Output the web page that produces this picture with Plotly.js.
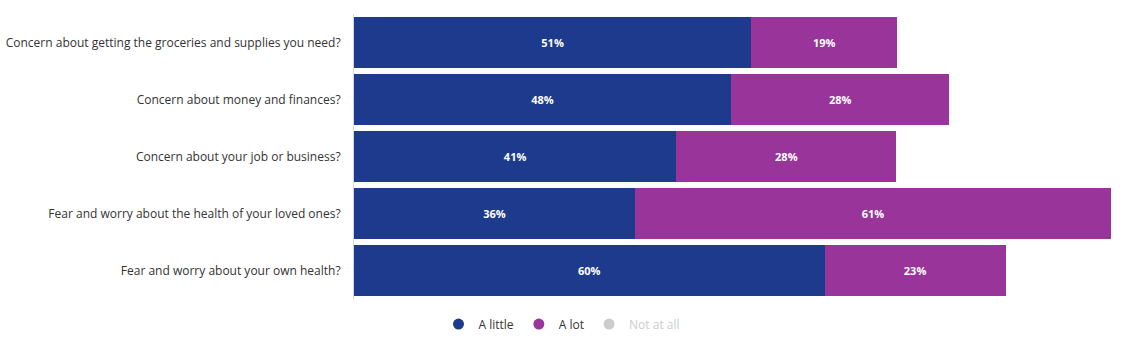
<!DOCTYPE html>
<html><head><meta charset="utf-8">
<script src="https://cdn.plot.ly/plotly-3.0.1.min.js"></script>
<style>html,body{margin:0;padding:0;background:#fff}#chart{width:1124px;height:350px}</style>
</head><body><div id="chart"></div>
<script>
const categories = [
  "Concern about getting the groceries and supplies you need?",
  "Concern about money and finances?",
  "Concern about your job or business?",
  "Fear and worry about the health of your loved ones?",
  "Fear and worry about your own health?"
];
const aLittle = [50.9, 48.3, 41.3, 36.0, 60.3];
const aLot = [18.7, 28.0, 28.2, 61.0, 23.2];
const notAtAll = [30.4, 23.7, 30.5, 3.0, 16.5];
const seriesNames = ["A little", "A lot", "Not at all"];
const seriesColors = ["#1e3a8c", "#99349b", "#cccccc"];

function barTrace(vals, name, color, visible) {
  return {
    type: 'bar', orientation: 'h', y: categories, x: vals, name: name,
    marker: {color: color, line: {width: 0}},
    text: vals.map(v => '<b>' + Math.round(v) + '%</b>'),
    textposition: 'inside', insidetextanchor: 'middle',
    textfont: {family: 'Open Sans', size: 11, color: '#ffffff'},
    hoverinfo: 'skip', showlegend: false, visible: visible
  };
}
function legendTrace(name, color, label) {
  return {
    type: 'scatter', mode: 'markers', x: [null], y: [null], name: label,
    marker: {symbol: 'circle', size: 11, color: color}, hoverinfo: 'skip', showlegend: true
  };
}
const data = [
  barTrace(aLittle, seriesNames[0], seriesColors[0], true),
  barTrace(aLot, seriesNames[1], seriesColors[1], true),
  barTrace(notAtAll, seriesNames[2], seriesColors[2], 'legendonly'),
  legendTrace(seriesNames[0], seriesColors[0], seriesNames[0]),
  legendTrace(seriesNames[1], seriesColors[1], seriesNames[1]),
  legendTrace(seriesNames[2], seriesColors[2], '<span style="color:#cccccc">' + seriesNames[2] + '</span>')
];
const layout = {
  width: 1124, height: 350,
  margin: {l: 354, r: 13, t: 14, b: 51},
  paper_bgcolor: '#fff', plot_bgcolor: '#fff',
  barmode: 'stack', bargap: 0.105,
  font: {family: 'Open Sans', size: 12, color: '#333333'},
  xaxis: {range: [0, 97], showgrid: false, zeroline: false, showticklabels: false, showline: false, fixedrange: true},
  yaxis: {autorange: 'reversed', showgrid: false, zeroline: false, showline: true, linecolor: '#ccd6eb', linewidth: 1,
          ticks: '', ticklabelstandoff: 10, tickfont: {family: 'Open Sans', size: 12, color: '#333333'}},
  legend: {orientation: 'h', traceorder: 'normal', xref: 'container', yref: 'container', x: 0.5, xanchor: 'center', y: 0.074, yanchor: 'middle',
           font: {family: 'Open Sans', size: 12, color: '#333333'}, itemwidth: 30, itemclick: false, itemdoubleclick: false},
  showlegend: true
};
Plotly.newPlot('chart', data, layout, {displayModeBar: false, staticPlot: true});
</script></body></html>
